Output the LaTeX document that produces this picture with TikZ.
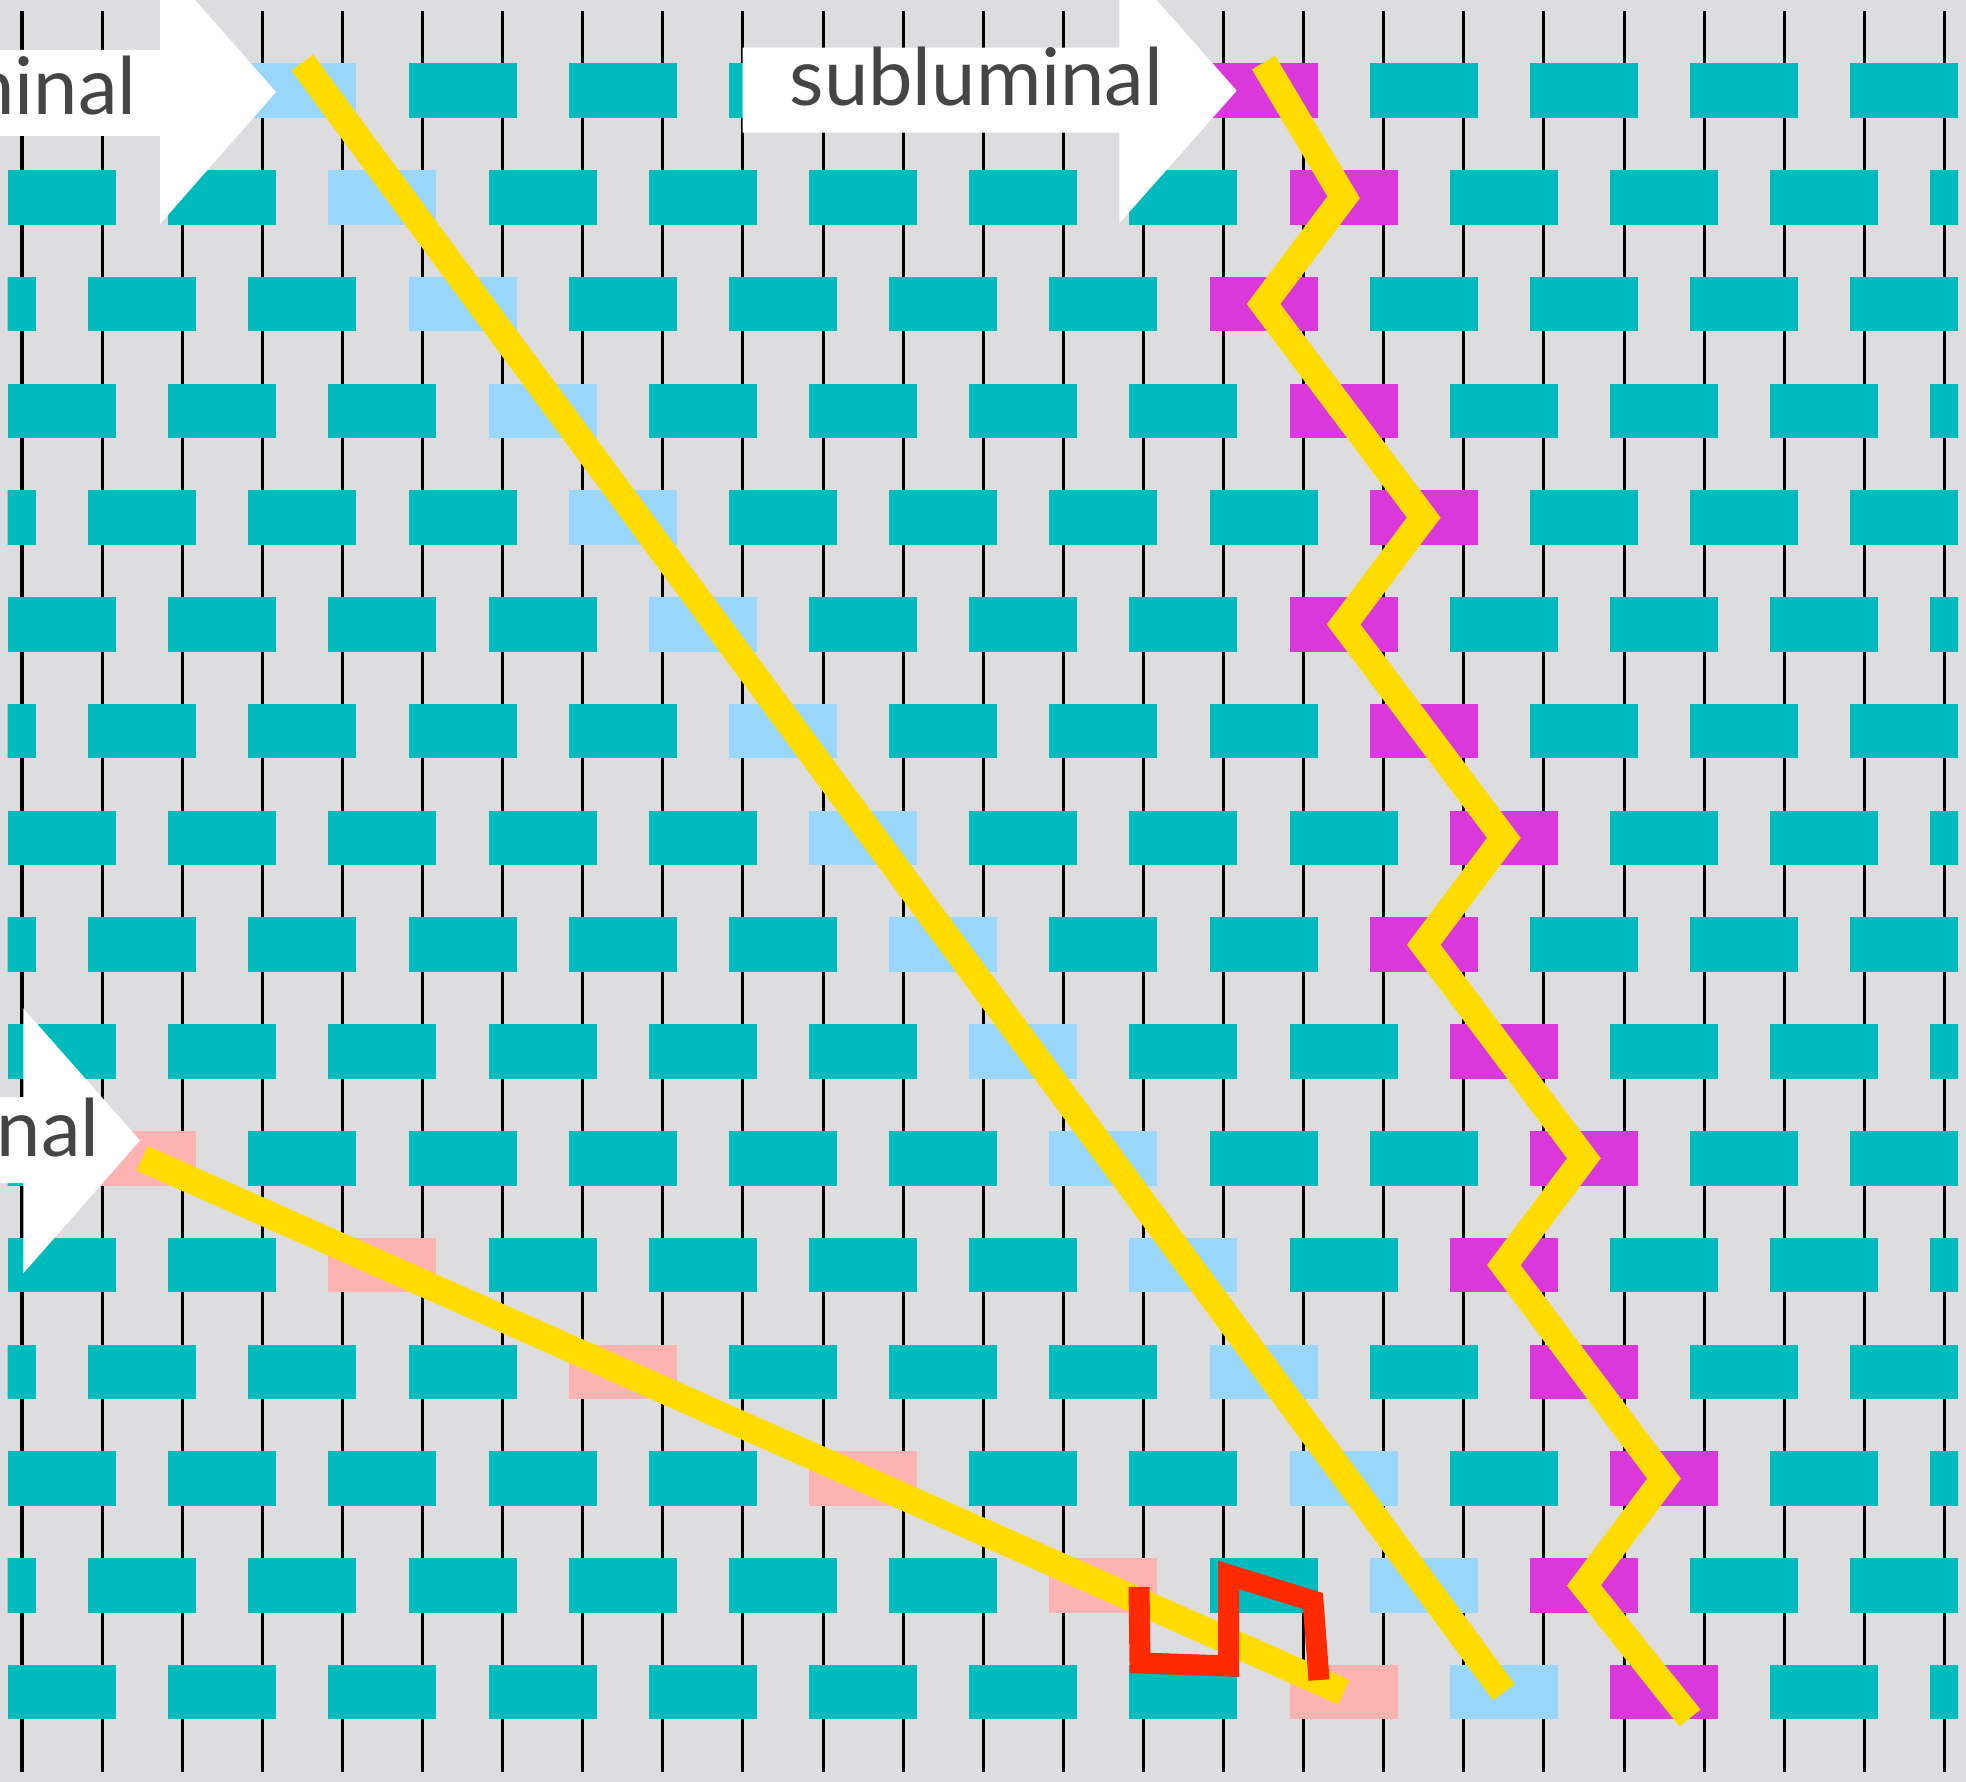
\documentclass[tikz,border=0pt]{standalone}
\usepackage{fontspec}
\newfontfamily\labelfont{Lato}

\definecolor{paper}{HTML}{DDDDE0}
\definecolor{tealB}{HTML}{00BBBE}
\definecolor{lumB}{HTML}{99D8FC}
\definecolor{subB}{HTML}{DA38DA}
\definecolor{supB}{HTML}{FFB2B2}
\definecolor{rayY}{HTML}{FFDC00}
\definecolor{kinkR}{HTML}{FF2A00}
\definecolor{ink}{HTML}{454545}

\begin{document}
\begin{tikzpicture}[
  x=0.01cm, y=-0.01cm,
  brick/.style={rectangle, inner sep=0pt, minimum width=1.08cm,
                minimum height=0.545cm},
  warp/.style={line width=0.03cm, black},
  ray/.style={line width=0.27cm, draw=rayY, line join=miter},
  kink/.style={line width=0.21cm, draw=kinkR, line join=miter},
  lbl/.style={font=\labelfont\fontsize{22.6pt}{27pt}\selectfont, text=ink,
              inner sep=0pt}
]

\useasboundingbox (0,0) rectangle (1966,1782);
\clip (0,0) rectangle (1966,1782);
\fill[paper] (0,0) rectangle (1966,1782);

% --- Hilos verticales ---
\foreach \k in {0,...,24}
  \draw[warp] ({22+80.1*\k},11) -- ({22+80.1*\k},1772);

% --- Ladrillos ---
\begin{scope}
\clip (7.5,0) rectangle (1958,1782);
\foreach \r in {0,...,15} {
  \pgfmathtruncatemacro\first{isodd(\r) ? 1 : -1}
  \foreach \j in {0,...,12} {
    \pgfmathtruncatemacro\U{\first+4*\j}
    \def\bcol{tealB}
    \pgfmathtruncatemacro\lumU{7+2*\r}
    \ifnum\U=\lumU \def\bcol{lumB}\fi
    \pgfmathtruncatemacro\subU{31+2*(floor(\r/3)+(mod(\r,3)==1))}
    \ifnum\U=\subU \def\bcol{subB}\fi
    \ifnum\r>9
      \pgfmathtruncatemacro\supU{3+6*(\r-10)}
      \ifnum\U=\supU \def\bcol{supB}\fi
    \fi
    \node[brick, fill=\bcol] (b-\r-\U) at ({22+40.05*\U},{90.5+106.78*\r}) {};
  }
}
\end{scope}

% --- Trayectorias ---
\draw[ray] (b-0-7.north) -- (b-15-37.center);
\coordinate (subend) at (1690,1718);
\draw[ray] (b-0-31.north) -- (b-1-33.center) -- (b-2-31.center)
  -- (b-4-35.center) -- (b-5-33.center) -- (b-7-37.center)
  -- (b-8-35.center) -- (b-10-39.center) -- (b-11-37.center)
  -- (b-13-41.center) -- (b-14-39.center) -- (subend);
\draw[ray] (b-10-3.center) -- (b-15-33.center);
\draw[kink] (1139,1587) -- (1140,1663) -- (1228.7,1666) -- (1228.7,1575)
  -- (1313,1601) -- (1319,1680);

% --- Flechas con rotulos ---
\fill[white] (-5,50) -- (160,50) -- (160,-40) -- (276,92) -- (160,224)
  -- (160,136) -- (-5,136) -- cycle;
\node[lbl, anchor=base east] (lumtxt) at (137,115) {luminal};

\fill[white] (742.7,47.7) -- (1119.3,47.7) -- (1119.3,-42) -- (1236.7,90.7)
  -- (1119.3,223.3) -- (1119.3,132.7) -- (742.7,132.7) -- cycle;
\node[lbl, anchor=base west] (subtxt) at (789,106) {subluminal};

\fill[white] (-5,1097) -- (23.3,1097) -- (23.3,1008.3) -- (140,1140.5)
  -- (23.3,1273.3) -- (23.3,1183) -- (-5,1183) -- cycle;
\node[lbl, anchor=base east] (suptxt) at (100,1156) {superluminal};

\end{tikzpicture}
\end{document}
